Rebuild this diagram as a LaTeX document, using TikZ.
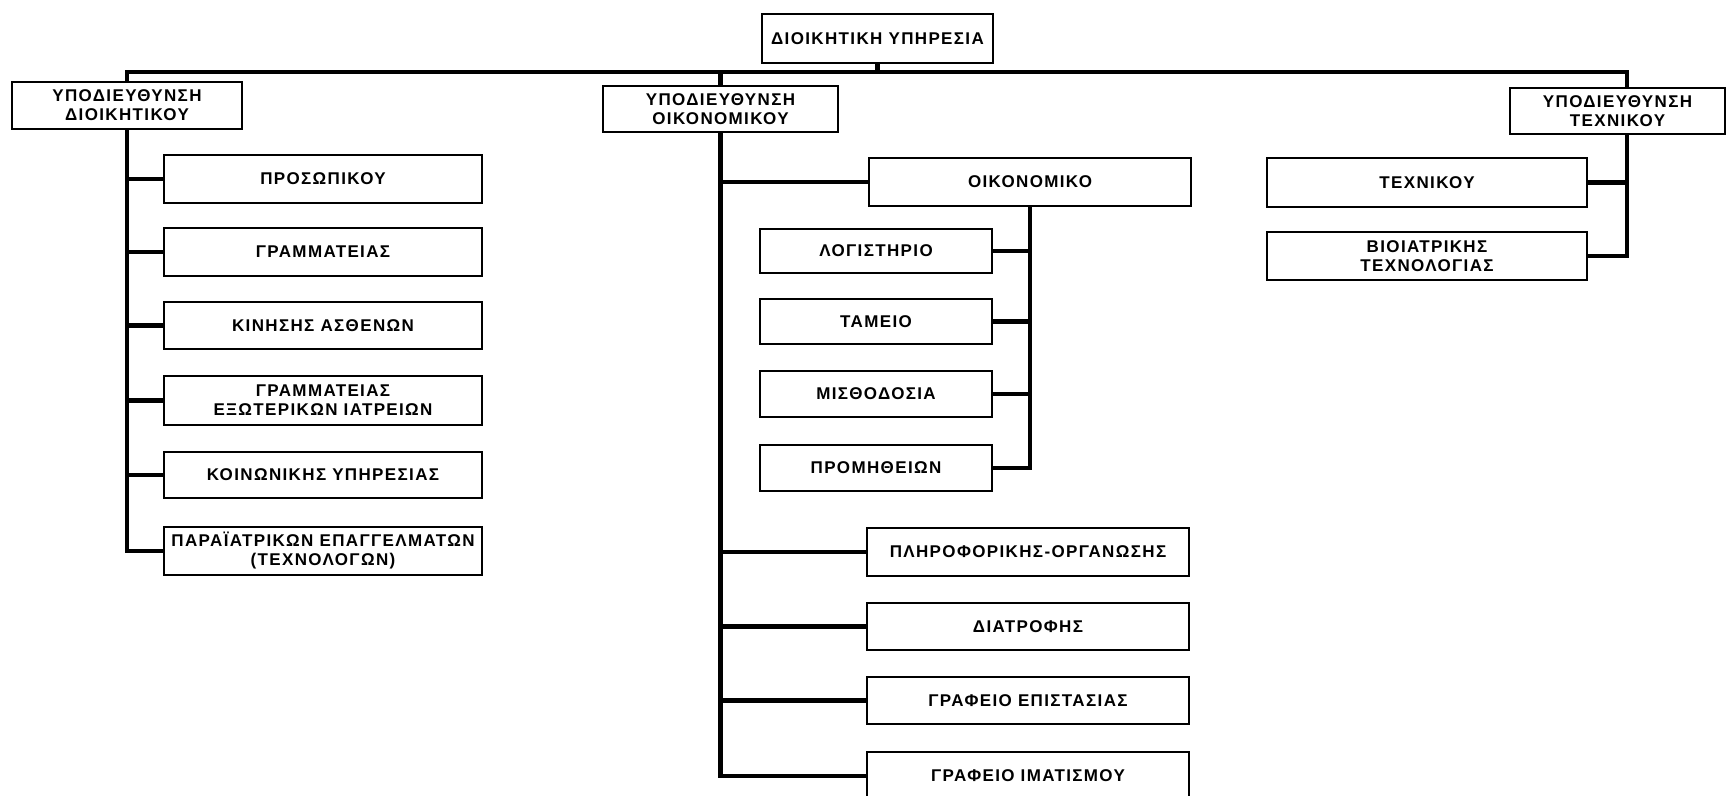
\documentclass[tikz,border=0pt]{standalone}
\usepackage{fontspec}
\newfontfamily\orgfont{Liberation Sans}[LetterSpace=8]
% box from its corners (x1,y1)-(x2,y2) in pixel units
\newcommand\orgbox[6]{%
  \node[unit, minimum width={(#4-#2)*0.5pt}, minimum height={(#5-#3)*0.5pt}]
    (#1) at ({(#2+#4)/2},{(#3+#5)/2}) {#6};}
\begin{document}
\begin{tikzpicture}[x=0.5pt, y=-0.5pt,
  unit/.style={draw=black, line width=1pt, fill=white, inner sep=0pt,
    align=center, font=\orgfont\bfseries\fontsize{8.5}{9.5}\selectfont},
  bus/.style={draw=black, line width=2.2pt, line cap=rect, line join=miter}]
\useasboundingbox (0,0) rectangle (1727,796);
\fill[white] (0,0) rectangle (1727,796);
\clip (0,0) rectangle (1727,796);

% helper points for the main bus and the right-hand branch
\coordinate (hub) at (876,72);
\coordinate (rbus) at (1627,72);

% boxes
\orgbox{top}{762}{14}{993}{63}{ΔΙΟΙΚΗΤΙΚΗ ΥΠΗΡΕΣΙΑ}
\orgbox{dioik}{12}{82}{242}{129}{ΥΠΟΔΙΕΥΘΥΝΣΗ\\ΔΙΟΙΚΗΤΙΚΟΥ}
\orgbox{oikon}{603}{86}{838}{132}{ΥΠΟΔΙΕΥΘΥΝΣΗ\\ΟΙΚΟΝΟΜΙΚΟΥ}
\orgbox{techn}{1510}{88}{1725}{134}{ΥΠΟΔΙΕΥΘΥΝΣΗ\\ΤΕΧΝΙΚΟΥ}

\orgbox{pros}{164}{155}{482}{203}{ΠΡΟΣΩΠΙΚΟΥ}
\orgbox{gram}{164}{228}{482}{276}{ΓΡΑΜΜΑΤΕΙΑΣ}
\orgbox{kin}{164}{302}{482}{349}{ΚΙΝΗΣΗΣ ΑΣΘΕΝΩΝ}
\orgbox{exot}{164}{376}{482}{425}{ΓΡΑΜΜΑΤΕΙΑΣ\\ΕΞΩΤΕΡΙΚΩΝ ΙΑΤΡΕΙΩΝ}
\orgbox{koin}{164}{452}{482}{498}{ΚΟΙΝΩΝΙΚΗΣ ΥΠΗΡΕΣΙΑΣ}
\orgbox{para}{164}{527}{482}{575}{ΠΑΡΑΪΑΤΡΙΚΩΝ ΕΠΑΓΓΕΛΜΑΤΩΝ\\(ΤΕΧΝΟΛΟΓΩΝ)}

\orgbox{oik}{869}{158}{1191}{206}{ΟΙΚΟΝΟΜΙΚΟ}
\orgbox{log}{760}{229}{992}{273}{ΛΟΓΙΣΤΗΡΙΟ}
\orgbox{tam}{760}{299}{992}{344}{ΤΑΜΕΙΟ}
\orgbox{mis}{760}{371}{992}{417}{ΜΙΣΘΟΔΟΣΙΑ}
\orgbox{prom}{760}{445}{992}{491}{ΠΡΟΜΗΘΕΙΩΝ}
\orgbox{plir}{867}{528}{1189}{576}{ΠΛΗΡΟΦΟΡΙΚΗΣ-ΟΡΓΑΝΩΣΗΣ}
\orgbox{diat}{867}{603}{1189}{650}{ΔΙΑΤΡΟΦΗΣ}
\orgbox{epis}{867}{677}{1189}{724}{ΓΡΑΦΕΙΟ ΕΠΙΣΤΑΣΙΑΣ}
\orgbox{imat}{867}{752}{1189}{800}{ΓΡΑΦΕΙΟ ΙΜΑΤΙΣΜΟΥ}

\orgbox{tex}{1267}{158}{1587}{207}{ΤΕΧΝΙΚΟΥ}
\orgbox{bio}{1267}{232}{1587}{280}{ΒΙΟΙΑΤΡΙΚΗΣ\\ΤΕΧΝΟΛΟΓΙΑΣ}

% main bus
\draw[bus] (top.south) -- (top.south |- hub);
\draw[bus] (dioik.north) -- (dioik.north |- hub) -- (rbus) -- (rbus |- techn.north);
\draw[bus] (oikon.north |- hub) -- (oikon.north);

% administrative branch
\draw[bus] (dioik.south) |- (para.west);
\foreach \b in {pros,gram,kin,exot,koin}
  \draw[bus] (dioik.south |- \b.west) -- (\b.west);

% financial branch
\draw[bus] (oikon.south) |- (imat.west);
\foreach \b in {oik,plir,diat,epis}
  \draw[bus] (oikon.south |- \b.west) -- (\b.west);
\draw[bus] (oik.south) |- (prom.east);
\foreach \b in {log,tam,mis}
  \draw[bus] (oik.south |- \b.east) -- (\b.east);

% technical branch
\draw[bus] (rbus |- techn.south) |- (bio.east);
\draw[bus] (rbus |- tex.east) -- (tex.east);
\end{tikzpicture}
\end{document}
